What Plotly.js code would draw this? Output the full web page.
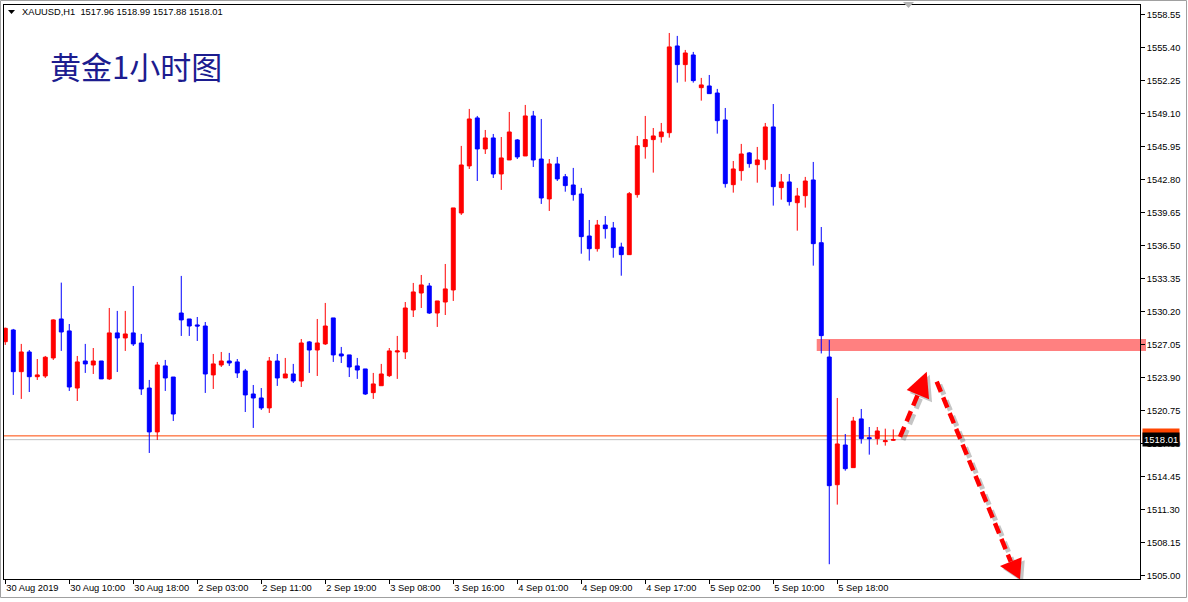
<!DOCTYPE html>
<html><head><meta charset="utf-8">
<script src="https://cdn.plot.ly/plotly-3.0.1.min.js"></script>
<style>html,body{margin:0;padding:0;background:#fff;overflow:hidden}#chart{width:1188px;height:602px}</style>
</head><body><div id="chart"></div>
<script>
const symbolHeader = "XAUUSD,H1  1517.96 1518.99 1517.88 1518.01";
const chartTitle = "黄金1小时图";

const opens = [1527.36,1528.48,1524.50,1526.38,1524.02,1524.09,1525.81,1529.53,1528.39,1522.94,
1525.52,1525.14,1525.52,1523.81,1528.20,1527.72,1528.20,1527.24,1522.94,1518.75,
1525.05,1523.99,1530.10,1529.53,1528.96,1528.86,1524.19,1525.14,1525.52,1525.43,
1524.57,1522.37,1521.99,1521.04,1525.52,1523.90,1524.28,1523.61,1527.34,1526.57,
1527.15,1529.63,1526.19,1526.10,1525.05,1524.76,1522.50,1523.16,1524.12,1526.38,
1526.38,1530.39,1532.01,1532.68,1530.10,1531.15,1532.30,1539.65,1544.14,1548.72,
1545.76,1546.81,1543.37,1544.71,1546.62,1545.09,1548.91,1544.80,1540.99,1544.33,
1543.11,1542.32,1541.46,1537.45,1536.24,1538.50,1538.22,1536.40,1535.67,1541.40,
1545.98,1546.65,1546.93,1547.31,1555.59,1553.81,1554.73,1551.61,1551.77,1551.10,
1548.53,1542.35,1543.69,1545.38,1544.26,1544.74,1547.86,1542.07,1542.61,1540.63,
1541.30,1542.80,1536.81,1525.90,1513.71,1517.50,1515.34,1519.99,1518.20,1518.11,
1517.82,1517.96];
const highs = [1528.70,1528.58,1527.15,1526.57,1525.71,1526.00,1529.50,1533.00,1529.05,1526.00,
1527.15,1526.76,1525.52,1530.58,1530.30,1530.30,1532.68,1528.10,1523.71,1525.43,
1525.62,1523.99,1533.64,1529.53,1529.72,1529.24,1526.19,1526.38,1526.29,1525.71,
1524.76,1523.23,1522.94,1525.90,1526.19,1525.81,1525.24,1527.62,1527.43,1529.53,
1531.06,1529.63,1526.86,1526.10,1525.81,1524.76,1524.38,1525.24,1526.76,1527.91,
1531.15,1532.97,1533.73,1532.97,1531.25,1534.78,1540.13,1546.05,1549.58,1548.91,
1547.57,1547.19,1546.90,1549.29,1546.71,1549.96,1549.39,1548.62,1544.80,1545.00,
1543.37,1543.95,1542.04,1538.98,1538.98,1539.36,1538.79,1536.81,1541.65,1547.00,
1548.91,1547.76,1548.24,1556.83,1556.55,1555.21,1555.02,1552.54,1552.82,1551.49,
1549.67,1544.61,1546.24,1545.47,1545.95,1548.24,1550.05,1543.37,1543.37,1542.04,
1543.09,1544.52,1538.31,1527.53,1521.99,1518.55,1520.18,1520.94,1519.22,1519.22,
1519.06,1518.99];
const lows = [1527.05,1522.28,1521.90,1522.56,1523.71,1523.90,1525.62,1526.48,1522.66,1521.70,
1524.38,1524.28,1523.81,1523.71,1524.47,1526.48,1526.95,1522.28,1516.74,1517.98,
1522.66,1519.79,1527.91,1527.91,1527.43,1522.47,1522.85,1524.95,1525.05,1523.90,
1520.65,1519.13,1520.85,1520.56,1523.14,1523.90,1523.42,1523.04,1524.38,1524.09,
1527.05,1525.43,1525.33,1523.99,1523.81,1522.28,1521.90,1523.14,1523.99,1523.81,
1525.71,1529.72,1530.58,1530.01,1528.77,1529.91,1531.25,1539.46,1543.85,1542.70,
1545.28,1542.99,1541.85,1544.71,1544.80,1545.09,1544.04,1540.51,1539.84,1542.70,
1541.68,1540.82,1535.76,1535.10,1535.96,1537.20,1535.38,1533.66,1535.67,1541.11,
1544.83,1543.50,1546.36,1546.84,1552.09,1552.18,1552.09,1550.37,1551.04,1547.22,
1542.07,1541.59,1542.73,1543.97,1542.54,1543.78,1540.35,1540.92,1540.35,1537.96,
1540.16,1534.62,1526.24,1506.12,1511.81,1515.05,1515.34,1517.63,1516.58,1517.53,
1517.44,1517.88];
const closes = [1528.64,1524.50,1526.38,1524.02,1524.19,1525.88,1529.44,1528.29,1523.04,1525.43,
1525.24,1525.52,1523.81,1528.20,1527.72,1528.10,1527.15,1522.85,1518.75,1525.14,
1523.90,1520.46,1529.44,1528.86,1528.86,1524.28,1525.24,1525.52,1525.33,1524.38,
1522.28,1521.99,1521.04,1525.52,1523.90,1524.28,1523.61,1527.24,1526.57,1527.24,
1528.86,1526.10,1526.00,1524.95,1524.66,1522.37,1523.33,1524.28,1526.48,1526.48,
1530.58,1532.11,1532.78,1530.10,1531.25,1532.40,1540.13,1544.23,1548.62,1545.76,
1546.81,1543.37,1544.90,1547.38,1545.00,1548.91,1544.71,1541.08,1544.33,1542.90,
1542.26,1541.40,1537.39,1536.24,1538.50,1538.15,1536.34,1535.67,1541.49,1546.07,
1546.65,1547.00,1547.38,1555.50,1553.81,1554.92,1552.28,1551.87,1551.04,1548.46,
1542.45,1543.85,1545.28,1544.36,1544.71,1547.86,1542.16,1542.61,1540.73,1541.27,
1542.70,1536.72,1527.94,1513.62,1517.60,1515.24,1519.79,1518.11,1518.11,1518.84,
1517.91,1518.01];

const timeTickIndex = [0,8,16,24,32,40,48,56,64,72,80,88,96,104];
const timeTickLabels = ["30 Aug 2019","30 Aug 10:00","30 Aug 18:00","2 Sep 03:00","2 Sep 11:00",
"2 Sep 19:00","3 Sep 08:00","3 Sep 16:00","4 Sep 01:00","4 Sep 09:00","4 Sep 17:00",
"5 Sep 02:00","5 Sep 10:00","5 Sep 18:00"];
const priceTicks = [1505.00,1508.15,1511.30,1514.45,1517.60,1520.75,1523.90,1527.05,1530.20,
1533.35,1536.50,1539.65,1542.80,1545.95,1549.10,1552.25,1555.40,1558.55];

const bidPrice = 1518.01;
const askPrice = 1518.37;
const zoneLow = 1526.48, zoneHigh = 1527.62, zoneStartBar = 101.43;
// arrow drawings in (bar index, price)
const upArrowShaft = [[111.84,1518.27],[114.07,1522.31]];
const upArrowHead = [[112.68,1522.75],[115.18,1524.50],[115.47,1521.87]];
const downArrowShaft = [[116.43,1523.55],[125.69,1506.36]];
const downArrowHead = [[124.34,1505.95],[126.84,1504.68],[127.05,1506.78]];

const xRange = [-0.16, 141.84];
const yRange = [1504.71, 1559.50];
const W = 1188, H = 602, mL = 4, mR = 48, mT = 5, mB = 23;
const plotW = W - mL - mR, plotH = H - mT - mB;
const PX = px => (px - mL) / plotW;
const PY = py => (H - mB - py) / plotH;
const barToPaper = b => (b - xRange[0]) / (xRange[1] - xRange[0]);

const bars = opens.map((_, i) => i);
const tickFont = {family: "Liberation Sans, Arial, sans-serif", size: 9.3, color: "#000"};

const shadowDx = 3 / 8, shadowDy = -3 * (yRange[1] - yRange[0]) / plotH;
function pathOf(pts, dx, dy) {
  return "M" + pts.map(p => (p[0] + dx) + "," + (p[1] + dy)).join(" L") + " Z";
}
function lineShape(seg, dx, dy, color, width) {
  return {type: "line", xref: "x", yref: "y", layer: "above",
    x0: seg[0][0] + dx, y0: seg[0][1] + dy, x1: seg[1][0] + dx, y1: seg[1][1] + dy,
    line: {color: color, width: width, dash: "11px,6px"}};
}
function headShape(pts, dx, dy, color) {
  return {type: "path", xref: "x", yref: "y", layer: "above", path: pathOf(pts, dx, dy),
    fillcolor: color, line: {width: 0}};
}
const shadowColor = "rgba(90,90,90,0.35)";
const arrowColor = "#ff0000";

const shapes = [
  {type: "line", xref: "paper", yref: "y", x0: 0, x1: 1, y0: askPrice, y1: askPrice, layer: "below",
   line: {color: "#ff4500", width: 1}},
  {type: "line", xref: "paper", yref: "y", x0: 0, x1: 1, y0: bidPrice, y1: bidPrice, layer: "below",
   line: {color: "#c0c0c0", width: 1}},
  {type: "rect", xref: "paper", yref: "y", x0: barToPaper(zoneStartBar), x1: PX(1146), y0: zoneLow, y1: zoneHigh,
   layer: "below", fillcolor: "#ff8080", line: {width: 0}},
  lineShape(upArrowShaft, shadowDx, shadowDy, shadowColor, 5),
  lineShape(downArrowShaft, shadowDx, shadowDy, shadowColor, 5),
  headShape(upArrowHead, shadowDx, shadowDy, shadowColor),
  headShape(downArrowHead, shadowDx, shadowDy, shadowColor),
  lineShape(upArrowShaft, 0, 0, arrowColor, 4.5),
  lineShape(downArrowShaft, 0, 0, arrowColor, 4.5),
  headShape(upArrowHead, 0, 0, arrowColor),
  headShape(downArrowHead, 0, 0, arrowColor),
  {type: "path", xref: "paper", yref: "paper", layer: "above",
   path: `M${PX(8)},${PY(10)} L${PX(15)},${PY(10)} L${PX(11.5)},${PY(14)} Z`, fillcolor: "#000", line: {width: 0}},
  {type: "path", xref: "paper", yref: "paper", layer: "above",
   path: `M${PX(903)},${PY(2)} L${PX(914)},${PY(2)} L${PX(908.5)},${PY(8)} Z`, fillcolor: "#b4b4b4", line: {width: 0}},
  {type: "rect", xref: "paper", yref: "paper", layer: "above",
   x0: PX(0.5), x1: PX(1186.5), y0: PY(0.5), y1: PY(597.5), line: {color: "#a0a0a0", width: 1}}
];

const annotations = [
  {xref: "paper", yref: "paper", x: PX(20), y: PY(12), xanchor: "left", yanchor: "middle",
   text: symbolHeader.replace(/ /g, "&nbsp;"), showarrow: false, font: tickFont},
  {xref: "paper", yref: "paper", x: PX(48), y: PY(65), xanchor: "left", yanchor: "middle",
   text: chartTitle, showarrow: false, font: {family: "Noto Sans CJK SC", size: 31, color: "#1c1c8f"}},
  {xref: "paper", yref: "y", x: 1, xshift: 2, y: askPrice, xanchor: "left", yanchor: "middle",
   text: askPrice.toFixed(2), showarrow: false, bgcolor: "#ff4500", borderpad: 1,
   font: {family: tickFont.family, size: 9.5, color: "#fff"}},
  {xref: "paper", yref: "y", x: 1, xshift: 2, y: bidPrice, xanchor: "left", yanchor: "middle",
   text: bidPrice.toFixed(2), showarrow: false, bgcolor: "#000", borderpad: 1,
   font: {family: tickFont.family, size: 9.5, color: "#fff"}}
];

const trace = {
  type: "candlestick", x: bars, open: opens, high: highs, low: lows, close: closes,
  increasing: {line: {color: "#ff0000", width: 1}, fillcolor: "#ff0000"},
  decreasing: {line: {color: "#0000ff", width: 1}, fillcolor: "#0000ff"},
  whiskerwidth: 0, hoverinfo: "skip", showlegend: false
};

const layout = {
  width: W, height: H,
  margin: {l: mL, r: mR, t: mT, b: mB, pad: 0},
  paper_bgcolor: "#ffffff", plot_bgcolor: "rgba(0,0,0,0)",
  showlegend: false, dragmode: false,
  font: tickFont,
  xaxis: {type: "linear", range: xRange, tickmode: "array", tickvals: timeTickIndex, ticktext: timeTickLabels,
    ticks: "outside", ticklen: 4, tickcolor: "#000", tickwidth: 1, showgrid: false, zeroline: false,
    showline: true, linecolor: "#000", linewidth: 1, mirror: true, rangeslider: {visible: false},
    ticklabelposition: "outside right", tickangle: 0, tickfont: tickFont, fixedrange: true},
  yaxis: {side: "right", range: yRange, tickmode: "array", tickvals: priceTicks,
    ticktext: priceTicks.map(v => v.toFixed(2)), ticks: "outside", ticklen: 4, tickcolor: "#000",
    showgrid: false, zeroline: false, showline: true, linecolor: "#000", linewidth: 1, mirror: true,
    tickfont: tickFont, fixedrange: true},
  shapes: shapes,
  annotations: annotations
};

Plotly.newPlot("chart", [trace], layout, {staticPlot: true, displayModeBar: false});
</script>
</body></html>
